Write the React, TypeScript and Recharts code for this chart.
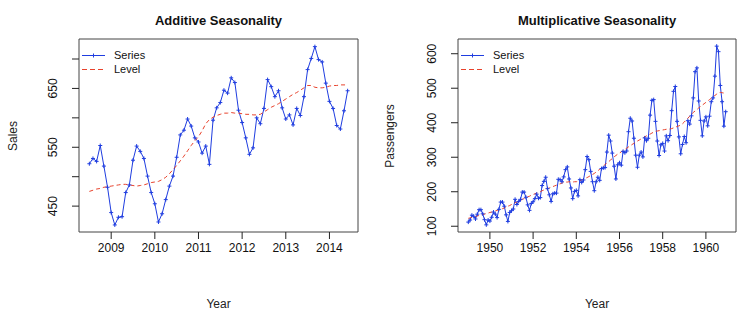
import React from "react";
import { LineChart, Line, XAxis, YAxis, ReferenceArea } from "recharts";

// additive example: monthly, Jul 2008 .. Jun 2014
const salesStart = 2008.5;
const salesSeries = [
  522, 531, 526, 553, 518, 482, 439, 418, 431, 432, 473, 486,
  528, 552, 543, 531, 501, 473, 454, 423, 437, 461, 484, 501,
  533, 571, 579, 598, 586, 566, 559, 540, 552, 521, 596, 617,
  626, 647, 642, 668, 660, 613, 592, 566, 538, 549, 600, 590,
  616, 665, 653, 636, 646, 617, 598, 605, 588, 616, 604, 636,
  682, 701, 721, 699, 695, 659, 628, 616, 587, 581, 612, 646,
];
const salesLevel = [
  475, 477, 479, 480, 482, 483, 484, 485, 486, 487, 487, 486,
  485, 484, 485, 486, 488, 490, 491, 492, 495, 499, 505, 512,
  519, 527, 535, 544, 553, 561, 568, 578, 590, 597, 601, 604,
  606, 608, 608, 609, 608, 608, 607, 606, 606, 605, 605, 606,
  610, 614, 618, 621, 624, 628, 632, 636, 640, 643, 647, 651,
  655, 655, 652, 651, 651, 652, 654, 655, 655, 656, 656, 656,
];
const salesTicksX = [2009, 2010, 2011, 2012, 2013, 2014];
const salesTicksY = [450, 500, 550, 600, 650, 700];
const salesLabelsY = [450, 550, 650];

// AirPassengers, monthly 1949 .. 1960
const airStart = 1949;
const passengers = [
  112, 118, 132, 129, 121, 135, 148, 148, 136, 119, 104, 118,
  115, 126, 141, 135, 125, 149, 170, 170, 158, 133, 114, 140,
  145, 150, 178, 163, 172, 178, 199, 199, 184, 162, 146, 166,
  171, 180, 193, 181, 183, 218, 230, 242, 209, 191, 172, 194,
  196, 196, 236, 235, 229, 243, 264, 272, 237, 211, 180, 201,
  204, 188, 235, 227, 234, 264, 302, 293, 259, 229, 203, 229,
  242, 233, 267, 269, 270, 315, 364, 347, 312, 274, 237, 278,
  284, 277, 317, 313, 318, 374, 413, 405, 355, 306, 271, 306,
  315, 301, 356, 348, 355, 422, 465, 467, 404, 347, 305, 336,
  340, 318, 362, 348, 363, 435, 491, 505, 404, 359, 310, 337,
  360, 342, 406, 396, 420, 472, 548, 559, 463, 407, 362, 405,
  417, 391, 419, 461, 472, 535, 622, 606, 508, 461, 390, 432,
];
const passengersLevel = [
  123, 124, 126, 127, 128, 130, 131, 132, 134, 135, 137, 138,
  140, 141, 143, 144, 146, 148, 149, 151, 153, 155, 158, 160,
  163, 165, 168, 170, 173, 175, 178, 180, 183, 185, 187, 190,
  192, 194, 196, 198, 200, 203, 205, 207, 209, 211, 213, 215,
  217, 219, 221, 223, 225, 227, 228, 228, 229, 229, 228, 229,
  229, 230, 232, 234, 236, 239, 241, 244, 247, 250, 253, 257,
  261, 265, 270, 274, 279, 283, 287, 292, 296, 301, 305, 309,
  312, 316, 319, 323, 326, 330, 333, 337, 340, 344, 347, 350,
  353, 356, 359, 362, 364, 367, 370, 373, 375, 376, 377, 378,
  379, 380, 381, 381, 382, 383, 385, 387, 389, 391, 393, 397,
  402, 408, 413, 419, 424, 430, 434, 438, 443, 447, 451, 455,
  459, 463, 467, 471, 475, 479, 483, 487, 488, 487, 486, 484,
];
const airTicksX = [1950, 1952, 1954, 1956, 1958, 1960];
const airTicksY = [100, 200, 300, 400, 500, 600];

const BLUE = "#1f3de0";
const RED = "#e8422c";
const FONT = "'Liberation Sans', Arial, sans-serif";
const W = 377;
const H = 322;
const TOP = 39;
const XAXIS_H = 90;

function toRows(start: number, series: number[], level: number[]) {
  return series.map((v, i) => ({ t: start + i / 12, series: v, level: level[i] }));
}

function PlusDot(props: any) {
  const { cx, cy, index } = props;
  if (cx == null || cy == null) return <g key={index} />;
  return (
    <path
      key={index}
      d={`M${cx - 2},${cy}h4M${cx},${cy - 2}v4`}
      stroke={BLUE}
      strokeWidth={1}
      fill="none"
    />
  );
}

function makeYTick(labels: number[] | null) {
  return function YTick(props: any) {
    const { x, y, payload } = props;
    const show = labels == null || labels.includes(payload.value);
    return (
      <text
        transform={`translate(${x - 13},${y}) rotate(-90)`}
        textAnchor="middle"
        fontSize={12}
        fontFamily={FONT}
        fill="#111"
      >
        {show ? payload.value : ""}
      </text>
    );
  };
}

function LegendBox() {
  return (
    <div style={{ fontFamily: FONT, fontSize: 11, color: "#111", lineHeight: "14px" }}>
      <div style={{ display: "flex", alignItems: "center" }}>
        <svg width={32} height={14}>
          <line x1={0} y1={7.5} x2={23} y2={7.5} stroke={BLUE} strokeWidth={1} />
          <path d="M9.5,7.5h4M11.5,5.5v4" stroke={BLUE} strokeWidth={1} fill="none" />
        </svg>
        <span>Series</span>
      </div>
      <div style={{ display: "flex", alignItems: "center" }}>
        <svg width={32} height={14}>
          <line x1={0} y1={7.5} x2={23} y2={7.5} stroke={RED} strokeWidth={1} strokeDasharray="5 3" />
        </svg>
        <span>Level</span>
      </div>
    </div>
  );
}

interface PanelProps {
  left: number;
  title: string;
  yLabel: string;
  rows: { t: number; series: number; level: number }[];
  xDomain: [number, number];
  yDomain: [number, number];
  xTicks: number[];
  yTicks: number[];
  yLabels: number[] | null;
  yAxisWidth: number;
  rightMargin: number;
}

function Panel(p: PanelProps) {
  const plotLeft = p.yAxisWidth;
  const plotWidth = W - p.yAxisWidth - p.rightMargin;
  const plotMid = TOP + (H - TOP - XAXIS_H) / 2;
  return (
    <div style={{ position: "absolute", left: p.left, top: 0, width: W, height: H }}>
      <LineChart
        width={W}
        height={H}
        data={p.rows}
        margin={{ top: TOP, right: p.rightMargin, bottom: 0, left: 0 }}
      >
        <XAxis
          dataKey="t"
          type="number"
          domain={p.xDomain}
          allowDataOverflow
          ticks={p.xTicks}
          height={XAXIS_H}
          axisLine={false}
          tickLine={{ stroke: "#222" }}
          tickSize={7}
          tickMargin={4}
          tick={{ fontSize: 12, fontFamily: FONT, fill: "#111" }}
        />
        <YAxis
          type="number"
          domain={p.yDomain}
          allowDataOverflow
          ticks={p.yTicks}
          width={p.yAxisWidth}
          axisLine={false}
          tickLine={{ stroke: "#222" }}
          tickSize={7}
          tickMargin={2}
          tick={makeYTick(p.yLabels)}
        />
        <ReferenceArea
          x1={p.xDomain[0]}
          x2={p.xDomain[1]}
          y1={p.yDomain[0]}
          y2={p.yDomain[1]}
          fill="none"
          stroke="#444"
          strokeWidth={1}
        />
        <Line
          type="linear"
          dataKey="series"
          stroke={BLUE}
          strokeWidth={1}
          dot={PlusDot}
          activeDot={false}
          isAnimationActive={false}
        />
        <Line
          type="linear"
          dataKey="level"
          stroke={RED}
          strokeWidth={1}
          strokeDasharray="4 3"
          dot={false}
          activeDot={false}
          isAnimationActive={false}
        />
      </LineChart>
      <div style={{ position: "absolute", left: plotLeft + 3, top: 48 }}>
        <LegendBox />
      </div>
      <div
        style={{
          position: "absolute",
          left: plotLeft,
          width: plotWidth,
          top: 13,
          textAlign: "center",
          fontFamily: FONT,
          fontWeight: "bold",
          fontSize: 13,
          color: "#111",
        }}
      >
        {p.title}
      </div>
      <div
        style={{
          position: "absolute",
          left: plotLeft,
          width: plotWidth,
          top: 297,
          textAlign: "center",
          fontFamily: FONT,
          fontSize: 12,
          color: "#222",
        }}
      >
        Year
      </div>
      <div
        style={{
          position: "absolute",
          left: 13,
          top: plotMid,
          transform: "translate(-50%, -50%) rotate(-90deg)",
          whiteSpace: "nowrap",
          fontFamily: FONT,
          fontSize: 12,
          color: "#222",
        }}
      >
        {p.yLabel}
      </div>
    </div>
  );
}

export default function App() {
  return (
    <div
      style={{
        position: "absolute",
        left: 0,
        top: 0,
        width: 754,
        height: 322,
        background: "#fff",
        overflow: "hidden",
      }}
    >
      <Panel
        left={0}
        title="Additive Seasonality"
        yLabel="Sales"
        rows={toRows(salesStart, salesSeries, salesLevel)}
        xDomain={[2008.263, 2014.654]}
        yDomain={[406, 734]}
        xTicks={salesTicksX}
        yTicks={salesTicksY}
        yLabels={salesLabelsY}
        yAxisWidth={79}
        rightMargin={19}
      />
      <Panel
        left={377}
        title="Multiplicative Seasonality"
        yLabel="Passengers"
        rows={toRows(airStart, passengers, passengersLevel)}
        xDomain={[1948.523, 1961.394]}
        yDomain={[83.3, 642.7]}
        xTicks={airTicksX}
        yTicks={airTicksY}
        yLabels={null}
        yAxisWidth={81}
        rightMargin={18}
      />
    </div>
  );
}
